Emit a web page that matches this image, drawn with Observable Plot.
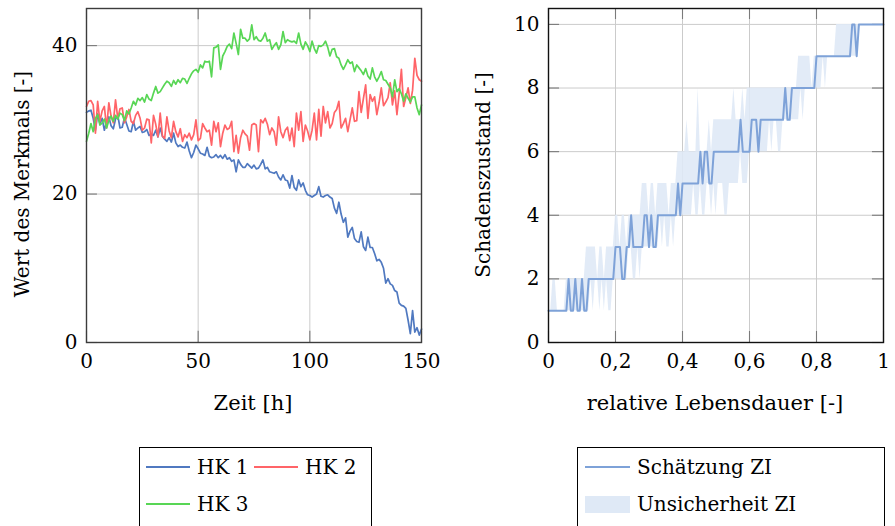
<!DOCTYPE html>
<html>
<head>
<meta charset="utf-8">
<script src="https://cdn.jsdelivr.net/npm/d3@7"></script>
<script src="https://cdn.jsdelivr.net/npm/@observablehq/plot@0.6"></script>
<style>
  html, body { margin: 0; padding: 0; background: #fff; }
  body { width: 895px; height: 526px; overflow: hidden; position: relative; font-family: "DejaVu Serif", serif; color: #000; }
  .abs { position: absolute; }
  .title { position: absolute; font-size: 21px; white-space: nowrap; transform: translate(-50%, -50%); }
  .ytitle { font-size: 20px; transform: translate(-50%, -50%) rotate(-90deg); }
  .legend { position: absolute; border: 1px solid #000; background: #fff; }
  .lt { position: absolute; font-size: 20px; white-space: nowrap; transform: translateY(-50%); }
  .ls { position: absolute; height: 2px; transform: translateY(-50%); }
</style>
</head>
<body>
<div id="left" class="abs" style="left:0;top:0"></div>
<div id="right" class="abs" style="left:450px;top:0"></div>
<script>
// ---------- Data: left panel (Zeit [h] 0..150) ----------
const seriesNames = ["HK 1", "HK 2", "HK 3"];
const seriesColors = ["#5079c0", "#ff6468", "#58d655"];
const hk1 = [
  31.0, 31.2, 31.3, 30.2, 28.6, 30.8, 29.5, 30.2, 28.6, 29.8, 30.4,
  29.2, 28.8, 30.1, 30.6, 28.9, 29.0, 30.3, 29.4, 28.5, 28.4,
  29.8, 28.6, 28.9, 29.1, 28.3, 28.4, 28.7, 27.9, 28.1, 27.9,
  28.6, 27.7, 28.9, 27.8, 27.4, 27.1, 27.6, 27.0, 28.2, 26.9,
  26.4, 26.6, 26.3, 26.2, 27.0, 25.8, 24.9, 25.6, 26.6, 26.1,
  25.5, 25.4, 25.2, 26.3, 25.1, 24.9, 25.0, 25.3, 24.9, 25.2,
  24.8, 25.3, 24.7, 24.9, 24.4, 24.6, 23.0, 24.6, 24.0, 23.6,
  23.6, 24.1, 23.8, 23.5, 23.9, 23.4, 23.5, 24.0, 24.6, 23.4,
  23.6, 23.0, 22.9, 22.8, 23.0, 22.3, 21.9, 22.6, 21.9, 21.8,
  20.8, 22.5, 20.9, 20.5, 21.9, 21.0, 21.5, 20.5, 19.9, 19.8,
  19.6, 19.8, 20.0, 21.0, 19.7, 19.6, 19.8, 19.9, 19.6, 19.4,
  18.1, 17.4, 18.9, 17.3, 16.2, 16.8, 14.2, 15.0, 15.5, 14.0,
  13.6, 13.5, 14.9, 12.9, 12.4, 14.2, 12.8, 12.8, 12.0, 11.0,
  11.2, 10.8, 10.0, 8.0, 8.6, 7.9, 7.7, 7.0, 6.8, 5.3,
  5.0, 4.9, 4.6, 3.0, 1.2, 4.3, 1.4, 2.0, 1.0, 1.8
];
const hk2 = [
  31.8, 32.5, 32.6, 32.0, 28.2, 32.5, 29.8, 31.2, 31.8, 28.9, 32.3,
  30.5, 29.6, 32.7, 30.2, 31.5, 31.6, 29.6, 30.4, 31.4, 29.8,
  29.5, 30.6, 31.1, 30.2, 28.6, 28.9, 30.1, 30.0, 26.9, 30.6,
  29.4, 27.7, 30.9, 27.8, 27.5, 30.4, 28.5, 27.6, 29.8, 28.4,
  27.7, 28.8, 27.1, 28.0, 27.6, 28.2, 27.3, 28.0, 30.0, 27.2,
  27.5, 29.5, 28.9, 28.4, 28.6, 26.6, 29.8, 28.4, 29.6, 26.4,
  28.2, 29.3, 28.7, 28.9, 29.8, 25.7, 27.9, 25.5, 27.6, 28.6,
  28.1, 27.8, 25.9, 29.3, 29.5, 29.3, 25.7, 30.0, 29.6, 30.2,
  29.4, 28.0, 28.9, 28.4, 26.6, 30.4, 28.4, 27.6, 28.6, 29.0,
  27.2, 28.9, 26.4, 30.9, 28.6, 31.1, 27.1, 29.3, 28.5, 27.3,
  28.6, 30.9, 27.3, 31.4, 27.8, 31.8, 29.6, 31.1, 28.9, 29.5,
  31.0, 31.4, 32.5, 28.9, 29.5, 30.2, 28.4, 30.0, 31.6, 29.8,
  29.9, 33.8, 31.0, 32.9, 34.7, 30.2, 33.4, 32.5, 33.1, 30.7,
  32.3, 34.3, 31.9, 32.4, 33.0, 35.0, 32.0, 33.9, 30.7, 33.5,
  36.8, 31.8, 33.0, 34.3, 32.2, 34.0, 38.3, 36.0, 35.4, 35.2
];
const hk3 = [
  27.1, 28.2, 29.5, 28.4, 30.2, 30.7, 29.3, 29.6, 30.1, 28.9, 29.9,
  30.5, 29.8, 30.6, 30.1, 30.9, 30.7, 29.9, 31.2, 30.8, 31.6,
  32.5, 32.0, 32.9, 32.6, 33.0, 32.4, 33.4, 32.8, 32.6, 33.6,
  34.5, 33.6, 33.8, 34.3, 34.8, 35.2, 35.0, 34.5, 35.3, 34.8,
  35.4, 35.0, 35.6, 35.5, 34.9, 35.6, 36.2, 36.6, 36.8, 36.4,
  37.4, 37.0, 37.9, 37.8, 37.9, 35.8, 39.7, 39.8, 40.1, 36.8,
  38.6, 39.2, 39.9, 40.2, 39.6, 41.7, 40.3, 38.8, 42.2, 41.0,
  41.0, 40.6, 40.9, 42.8, 40.8, 41.2, 40.7, 40.6, 41.0, 41.7,
  40.6, 40.8, 39.5, 40.0, 40.4, 39.5, 40.1, 41.9, 40.4, 40.8,
  40.6, 40.5, 40.6, 40.3, 41.7, 40.2, 39.5, 40.5, 40.0, 39.2,
  40.6, 39.6, 39.0, 40.0, 39.9, 40.1, 40.6, 39.8, 38.6, 39.5,
  39.6, 38.5, 38.3, 37.4, 36.8, 37.4, 38.1, 37.6, 37.8, 36.5,
  37.4, 37.0, 36.6, 36.1, 36.9, 35.9, 35.5, 37.0, 35.8, 35.2,
  35.8, 36.5, 35.4, 35.3, 34.8, 34.3, 33.1, 35.4, 33.8, 34.2,
  33.5, 32.5, 33.5, 32.9, 32.4, 33.1, 33.1, 31.6, 30.7, 32.0
];
const xTicksLeft = [0, 50, 100, 150];
const yTicksLeft = [0, 20, 40];

// ---------- Data: right panel (relative Lebensdauer 0..1) ----------
const ziEstimate = [
  1,1,1,1,1,1,1,1,1,2,
  1,1,2,1,1,2,1,1,2,2,
  2,2,2,2,2,2,2,2,2,2,
  3,3,3,2,2,3,3,4,3,3,
  3,3,3,4,4,3,4,3,3,4,
  4,4,4,4,4,4,4,4,5,4,
  5,5,5,5,5,5,5,5,6,5,
  6,6,5,5,6,6,6,6,6,6,
  6,6,6,6,6,6,7,6,6,6,
  6,7,7,7,6,7,7,7,7,7,
  7,7,7,7,7,7,8,7,7,8,
  8,8,8,8,8,8,8,8,8,8,
  9,9,9,9,9,9,9,9,9,9,
  9,9,9,9,9,9,10,10,9,10,
  10,10,10,10,10,10,10,10,10,10,10
];
const ziLow = [
  1,1,1,1,1,1,1,1,1,1,
  1,1,1,1,1,1,1,1,1,2,
  1,2,2,1,2,1,2,1,1,2,
  2,2,2,2,2,2,3,3,2,2,
  3,2,3,3,3,3,3,3,3,3,
  4,3,4,3,3,4,3,4,4,4,
  4,4,4,4,4,5,4,4,5,4,
  4,5,5,4,5,4,5,5,5,4,
  4,5,5,5,5,5,6,5,5,5,
  6,6,6,6,6,6,6,6,6,7,
  6,7,7,6,6,7,7,7,7,7,
  7,7,7,8,7,8,8,8,8,8,
  8,8,8,9,8,9,9,9,9,9,
  9,9,9,9,9,9,9,9,9,10,
  10,10,10,10,10,10,10,10,10,10,10
];
const ziHigh = [
  1,1,2,2,1,1,1,1,2,2,
  2,2,2,2,2,2,2,3,3,3,
  3,3,2,3,3,2,3,3,3,3,
  4,4,3,4,4,3,4,4,4,4,
  4,4,5,5,5,4,5,5,4,5,
  5,5,5,5,4,5,5,5,6,6,
  6,6,7,6,6,6,6,8,6,6,
  6,6,7,6,7,7,7,7,7,7,
  7,7,7,8,7,7,7,8,7,8,
  8,8,8,8,8,8,8,8,8,8,
  8,8,8,8,8,8,8,8,8,8,
  8,8,9,9,9,9,9,9,8,9,
  9,9,9,9,9,9,9,9,9,10,
  10,10,10,10,10,10,10,10,10,10,
  10,10,10,10,10,10,10,10,10,10,10
];
const xTicksRight = [0, 0.2, 0.4, 0.6, 0.8, 1];
const yTicksRight = [0, 2, 4, 6, 8, 10];
const legendRight = ["Schätzung ZI", "Unsicherheit ZI"];
const lineColorRight = "#7ea2d8";
const bandColorRight = "#dfe9f6";

// ---------- Build tables ----------
const leftRows = [];
[hk1, hk2, hk3].forEach((arr, k) => arr.forEach((v, i) => leftRows.push({t: i, v, s: seriesNames[k]})));
const rightRows = ziEstimate.map((v, i) => ({r: i / (ziEstimate.length - 1), v, lo: ziLow[i], hi: ziHigh[i]}));

const gridColor = "#cbcbcb";
const tickColor = "#7a7a7a";
const frameColor = "#3c3c3c";
const fontStyle = {fontFamily: "DejaVu Serif", fontSize: "20px", color: "#000", background: "transparent", overflow: "visible"};

function innerTicks(xd, yd, xt, yt, xLen, yLen) {
  return [
    Plot.ruleX(xt, {y1: yd[0], y2: yd[0] + yLen, stroke: tickColor, strokeWidth: 1.1}),
    Plot.ruleX(xt, {y1: yd[1] - yLen, y2: yd[1], stroke: tickColor, strokeWidth: 1.1}),
    Plot.ruleY(yt, {x1: xd[0], x2: xd[0] + xLen, stroke: tickColor, strokeWidth: 1.1}),
    Plot.ruleY(yt, {x1: xd[1] - xLen, x2: xd[1], stroke: tickColor, strokeWidth: 1.1})
  ];
}

// ---------- Left plot ----------
const xdL = [0, 150], ydL = [0, 45];
const left = Plot.plot({
  width: 440, height: 420,
  marginLeft: 86, marginRight: 19, marginTop: 8, marginBottom: 78,
  style: fontStyle,
  x: {domain: xdL, ticks: xTicksLeft, tickSize: 0, tickPadding: 11, label: null},
  y: {domain: ydL, ticks: yTicksLeft, tickSize: 0, tickPadding: 9, label: null},
  color: {domain: seriesNames, range: seriesColors},
  marks: [
    Plot.ruleX(xTicksLeft, {stroke: gridColor, strokeWidth: 1}),
    Plot.ruleY(yTicksLeft, {stroke: gridColor, strokeWidth: 1}),
    ...innerTicks(xdL, ydL, xTicksLeft, yTicksLeft, 4.9, 1.5),
    Plot.lineY(leftRows, {x: "t", y: "v", z: "s", stroke: "s", strokeWidth: 1.7, strokeLinejoin: "round"}),
    Plot.frame({stroke: frameColor, strokeWidth: 1.4})
  ]
});
document.getElementById("left").appendChild(left);

// ---------- Right plot ----------
const xdR = [0, 1], ydR = [0, 10.5];
const fmt = d => d === 0 ? "0" : d === 1 ? "1" : d.toFixed(1).replace(".", ",");
const right = Plot.plot({
  width: 445, height: 420,
  marginLeft: 98, marginRight: 12, marginTop: 8, marginBottom: 78,
  style: fontStyle,
  x: {domain: xdR, ticks: xTicksRight, tickFormat: fmt, tickSize: 0, tickPadding: 11, label: null},
  y: {domain: ydR, ticks: yTicksRight, tickSize: 0, tickPadding: 9, label: null},
  marks: [
    Plot.ruleX(xTicksRight, {stroke: gridColor, strokeWidth: 1}),
    Plot.ruleY(yTicksRight, {stroke: gridColor, strokeWidth: 1}),
    Plot.areaY(rightRows, {x: "r", y1: "lo", y2: "hi", fill: bandColorRight, fillOpacity: 0.9}),
    ...innerTicks(xdR, ydR, xTicksRight, yTicksRight, 0.033, 0.345),
    Plot.lineY(rightRows, {x: "r", y: "v", stroke: lineColorRight, strokeWidth: 2, strokeLinejoin: "round"}),
    Plot.frame({stroke: "#111", strokeWidth: 1.4})
  ]
});
document.getElementById("right").appendChild(right);

// ---------- Titles & legends (HTML text) ----------
function addDiv(cls, text, css) {
  const d = document.createElement("div");
  d.className = cls;
  if (text != null) d.textContent = text;
  Object.assign(d.style, css);
  document.body.appendChild(d);
  return d;
}
addDiv("title ytitle", "Wert des Merkmals [-]", {left: "22px", top: "184px"});
addDiv("title", "Zeit [h]", {left: "253px", top: "403px"});
addDiv("title ytitle", "Schadenszustand [-]", {left: "483px", top: "175px"});
addDiv("title", "relative Lebensdauer [-]", {left: "715px", top: "403px"});

addDiv("legend", null, {left: "139px", top: "447px", width: "231px", height: "100px"});
const legPos = [[146, 467], [254, 467], [146, 504]];
seriesNames.forEach((n, k) => {
  const [x, y] = legPos[k];
  addDiv("ls", null, {left: x + "px", top: y + "px", width: "44px", background: seriesColors[k]});
  addDiv("lt", n, {left: (x + 51) + "px", top: y + "px"});
});

addDiv("legend", null, {left: "577px", top: "447px", width: "306px", height: "100px"});
addDiv("ls", null, {left: "585px", top: "467px", width: "45px", background: lineColorRight});
addDiv("lt", legendRight[0], {left: "637px", top: "467px"});
addDiv("abs", null, {left: "585px", top: "496px", width: "45px", height: "17px", background: bandColorRight});
addDiv("lt", legendRight[1], {left: "637px", top: "504px"});
</script>
</body>
</html>
